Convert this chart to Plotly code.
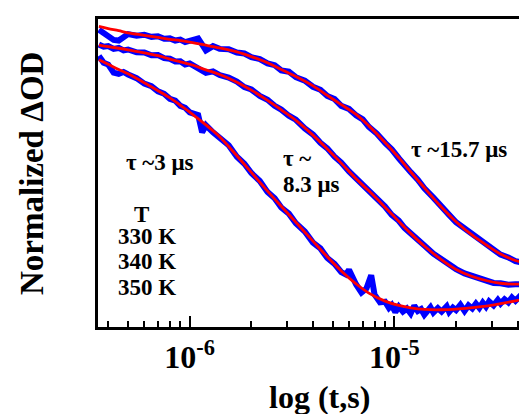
import math
import plotly.graph_objects as go

# ---------------- data ----------------
# fit time grid (microseconds)
fit_t_us = [0.36, 0.4, 0.45, 0.5, 0.6, 0.7, 0.8, 0.9, 1.0, 1.2, 1.4, 1.7, 2.0, 2.4, 2.8, 3.3,
            4.0, 4.7, 5.5, 6.5, 7.5, 9, 10.5, 12, 14, 17, 20, 24, 28, 33, 39, 48.6]

fit_330K = [0.976, 0.969, 0.962, 0.955, 0.947, 0.940, 0.934, 0.930, 0.925, 0.915, 0.906, 0.893,
            0.878, 0.858, 0.836, 0.813, 0.783, 0.752, 0.722, 0.690, 0.653, 0.599, 0.550, 0.504,
            0.452, 0.389, 0.342, 0.298, 0.267, 0.237, 0.216, 0.201]
fit_340K = [0.915, 0.910, 0.905, 0.900, 0.890, 0.881, 0.870, 0.861, 0.853, 0.835, 0.820, 0.795,
            0.769, 0.736, 0.705, 0.671, 0.623, 0.578, 0.532, 0.481, 0.442, 0.389, 0.343, 0.304,
            0.263, 0.218, 0.187, 0.164, 0.151, 0.142, 0.139, 0.143]
fit_350K = [0.868, 0.853, 0.836, 0.822, 0.793, 0.767, 0.744, 0.720, 0.698, 0.656, 0.618, 0.556,
            0.502, 0.441, 0.392, 0.340, 0.279, 0.228, 0.182, 0.140, 0.110, 0.084, 0.070, 0.062,
            0.057, 0.056, 0.058, 0.063, 0.068, 0.076, 0.085, 0.097]

# measured traces (microseconds, normalized dOD)
data_t_us = [0.36, 0.38, 0.40, 0.425, 0.45, 0.475, 0.5, 0.55, 0.6, 0.65, 0.7, 0.75, 0.8, 0.85,
             0.9, 0.95, 1.0, 1.1, 1.2, 1.3, 1.4, 1.55, 1.7, 1.85, 2.0, 2.2, 2.4, 2.6, 2.8, 3.05,
             3.3, 3.65, 4.0, 4.35, 4.7, 5.1, 5.5, 6.0, 6.5, 7.0, 7.5, 8.2, 9.0, 9.7, 10.5, 11.2,
             12, 13, 14, 15.5, 17, 18.5, 20, 22, 24, 26, 28, 30.5, 33, 36, 39, 43.5, 48.6]
data_330K = [0.965, 0.955, 0.945, 0.932, 0.930, 0.944, 0.951, 0.946, 0.949, 0.942, 0.944, 0.936,
             0.937, 0.930, 0.933, 0.925, 0.928, 0.937, 0.898, 0.912, 0.903, 0.902, 0.891, 0.888,
             0.876, 0.870, 0.856, 0.850, 0.833, 0.829, 0.811, 0.800, 0.780, 0.770, 0.750, 0.740,
             0.718, 0.708, 0.687, 0.674, 0.650, 0.628, 0.598, 0.577, 0.548, 0.529, 0.503, 0.478,
             0.450, 0.420, 0.387, 0.364, 0.340, 0.320, 0.296, 0.283, 0.265, 0.251, 0.235, 0.226,
             0.214, 0.207, 0.200]
data_340K = [0.917, 0.910, 0.912, 0.903, 0.906, 0.898, 0.901, 0.892, 0.891, 0.882, 0.883, 0.873,
             0.871, 0.862, 0.863, 0.852, 0.856, 0.838, 0.825, 0.830, 0.818, 0.810, 0.797, 0.779,
             0.771, 0.750, 0.738, 0.718, 0.706, 0.686, 0.673, 0.645, 0.625, 0.598, 0.580, 0.553,
             0.534, 0.505, 0.483, 0.460, 0.444, 0.413, 0.391, 0.364, 0.345, 0.322, 0.306, 0.282,
             0.265, 0.238, 0.220, 0.200, 0.188, 0.174, 0.165, 0.155, 0.151, 0.143, 0.142, 0.137,
             0.139, 0.138, 0.144]

data350_t_us = [0.36, 0.38, 0.40, 0.425, 0.45, 0.475, 0.5, 0.55, 0.6, 0.65, 0.7, 0.75, 0.8, 0.85,
                0.9, 0.95, 1.0, 1.05, 1.1, 1.15, 1.2, 1.3, 1.4, 1.55, 1.7, 1.85, 2.0, 2.2, 2.4,
                2.6, 2.8, 3.05, 3.3, 3.65, 4.0, 4.35, 4.7, 5.1, 5.5, 5.8, 6.0, 6.3, 6.5, 6.9, 7.3,
                7.7, 8.0, 8.5, 9.0, 9.4, 9.7, 10.1, 10.5, 11.0, 11.5, 12, 12.5, 13, 13.5, 14, 15,
                15.5, 16.3, 17, 18, 18.5, 19.3, 20, 21, 22, 23, 24, 25, 26, 27, 28, 29, 30.5, 32,
                33, 34.5, 36, 37.5, 39, 41, 43.5, 46, 48.6]
data_350K = [0.880, 0.858, 0.852, 0.826, 0.822, 0.828, 0.820, 0.808, 0.790, 0.782, 0.765, 0.757,
             0.741, 0.735, 0.718, 0.712, 0.697, 0.690, 0.688, 0.632, 0.655, 0.632, 0.616, 0.590,
             0.553, 0.530, 0.500, 0.474, 0.438, 0.418, 0.388, 0.368, 0.337, 0.310, 0.274, 0.255,
             0.224, 0.205, 0.178, 0.170, 0.186, 0.150, 0.138, 0.112, 0.125, 0.168, 0.105, 0.080,
             0.082, 0.062, 0.071, 0.048, 0.066, 0.050, 0.060, 0.044, 0.069, 0.052, 0.058, 0.040,
             0.064, 0.047, 0.061, 0.050, 0.067, 0.049, 0.063, 0.055, 0.072, 0.052, 0.070, 0.060,
             0.076, 0.062, 0.079, 0.066, 0.083, 0.070, 0.088, 0.076, 0.090, 0.080, 0.096, 0.085,
             0.100, 0.092, 0.103, 0.097]

major_ticks = [1e-6, 1e-5]
major_labels = ["10<sup>-6</sup>", "10<sup>-5</sup>"]
minor_ticks = [4e-7, 5e-7, 6e-7, 7e-7, 8e-7, 9e-7,
               2e-6, 3e-6, 4e-6, 5e-6, 6e-6, 7e-6, 8e-6, 9e-6,
               2e-5, 3e-5, 4e-5]

x_range_s = [3.565e-7, 4.86e-5]


def to_s(us):
    return [u * 1e-6 for u in us]


FONT = "Times New Roman, Liberation Serif, serif"
BLUE = "#0000FF"
RED = "#FF0000"

fig = go.Figure()
for tt, yy in [(data_t_us, data_330K), (data_t_us, data_340K), (data350_t_us, data_350K)]:
    fig.add_trace(go.Scatter(x=to_s(tt), y=yy, mode="lines",
                             line=dict(color=BLUE, width=6), showlegend=False))
for yy in [fit_330K, fit_340K, fit_350K]:
    fig.add_trace(go.Scatter(x=to_s(fit_t_us), y=yy, mode="lines",
                             line=dict(color=RED, width=2.8, shape="spline"), showlegend=False))

W, H = 527, 414
L, R, T, B = 90, 0, 11, 95
pw, ph = W - L - R, H - T - B


def px(xp):
    return (xp - L) / pw


def py(yp):
    return (H - B - yp) / ph


annos = [
    ("τ ~3 μs", 151.7, 154, "center"),
    ("T", 133, 206, "center"),
    ("330 K", 138.7, 228.5, "center"),
    ("340 K", 138.7, 253.5, "center"),
    ("350 K", 138.7, 279, "center"),
    ("τ ~", 273, 150, "left"),
    ("8.3 μs", 273, 176.5, "left"),
    ("τ ~15.7 μs", 451, 141.5, "center"),
]
for txt, x0, y0, al in annos:
    fig.add_annotation(text=txt, x=px(x0), y=py(y0), xref="paper", yref="paper",
                       xanchor=al, yanchor="middle", showarrow=False,
                       font=dict(family=FONT, size=23, color="black", weight="bold"))

fig.add_annotation(text="log (t,s)", x=px(311), y=py(389), xref="paper", yref="paper",
                   xanchor="center", yanchor="middle", showarrow=False,
                   font=dict(family=FONT, size=32, color="black", weight="bold"))
fig.add_annotation(text="Normalized ΔOD", x=px(24), y=py(166), xref="paper", yref="paper",
                   xanchor="center", yanchor="middle", showarrow=False, textangle=-90,
                   font=dict(family=FONT, size=33, color="black", weight="bold"))

fig.update_layout(
    width=W, height=H,
    margin=dict(l=L, r=R, t=T, b=B, pad=0),
    paper_bgcolor="white", plot_bgcolor="white",
    showlegend=False,
    xaxis=dict(type="log", range=[math.log10(x_range_s[0]), math.log10(x_range_s[1])],
               showline=True, linewidth=3, linecolor="black", mirror=True,
               ticks="inside", ticklen=11, tickwidth=2, tickcolor="black",
               tickvals=major_ticks, ticktext=major_labels,
               tickfont=dict(family=FONT, size=32, color="black", weight="bold"),
               showgrid=False, zeroline=False,
               minor=dict(ticks="inside", ticklen=6, tickwidth=2, tickcolor="black",
                          tickvals=minor_ticks, showgrid=False)),
    yaxis=dict(range=[0, 1], showline=True, linewidth=3, linecolor="black",
               ticks="", showticklabels=False, showgrid=False, zeroline=False),
)

fig.write_html("out.html")
